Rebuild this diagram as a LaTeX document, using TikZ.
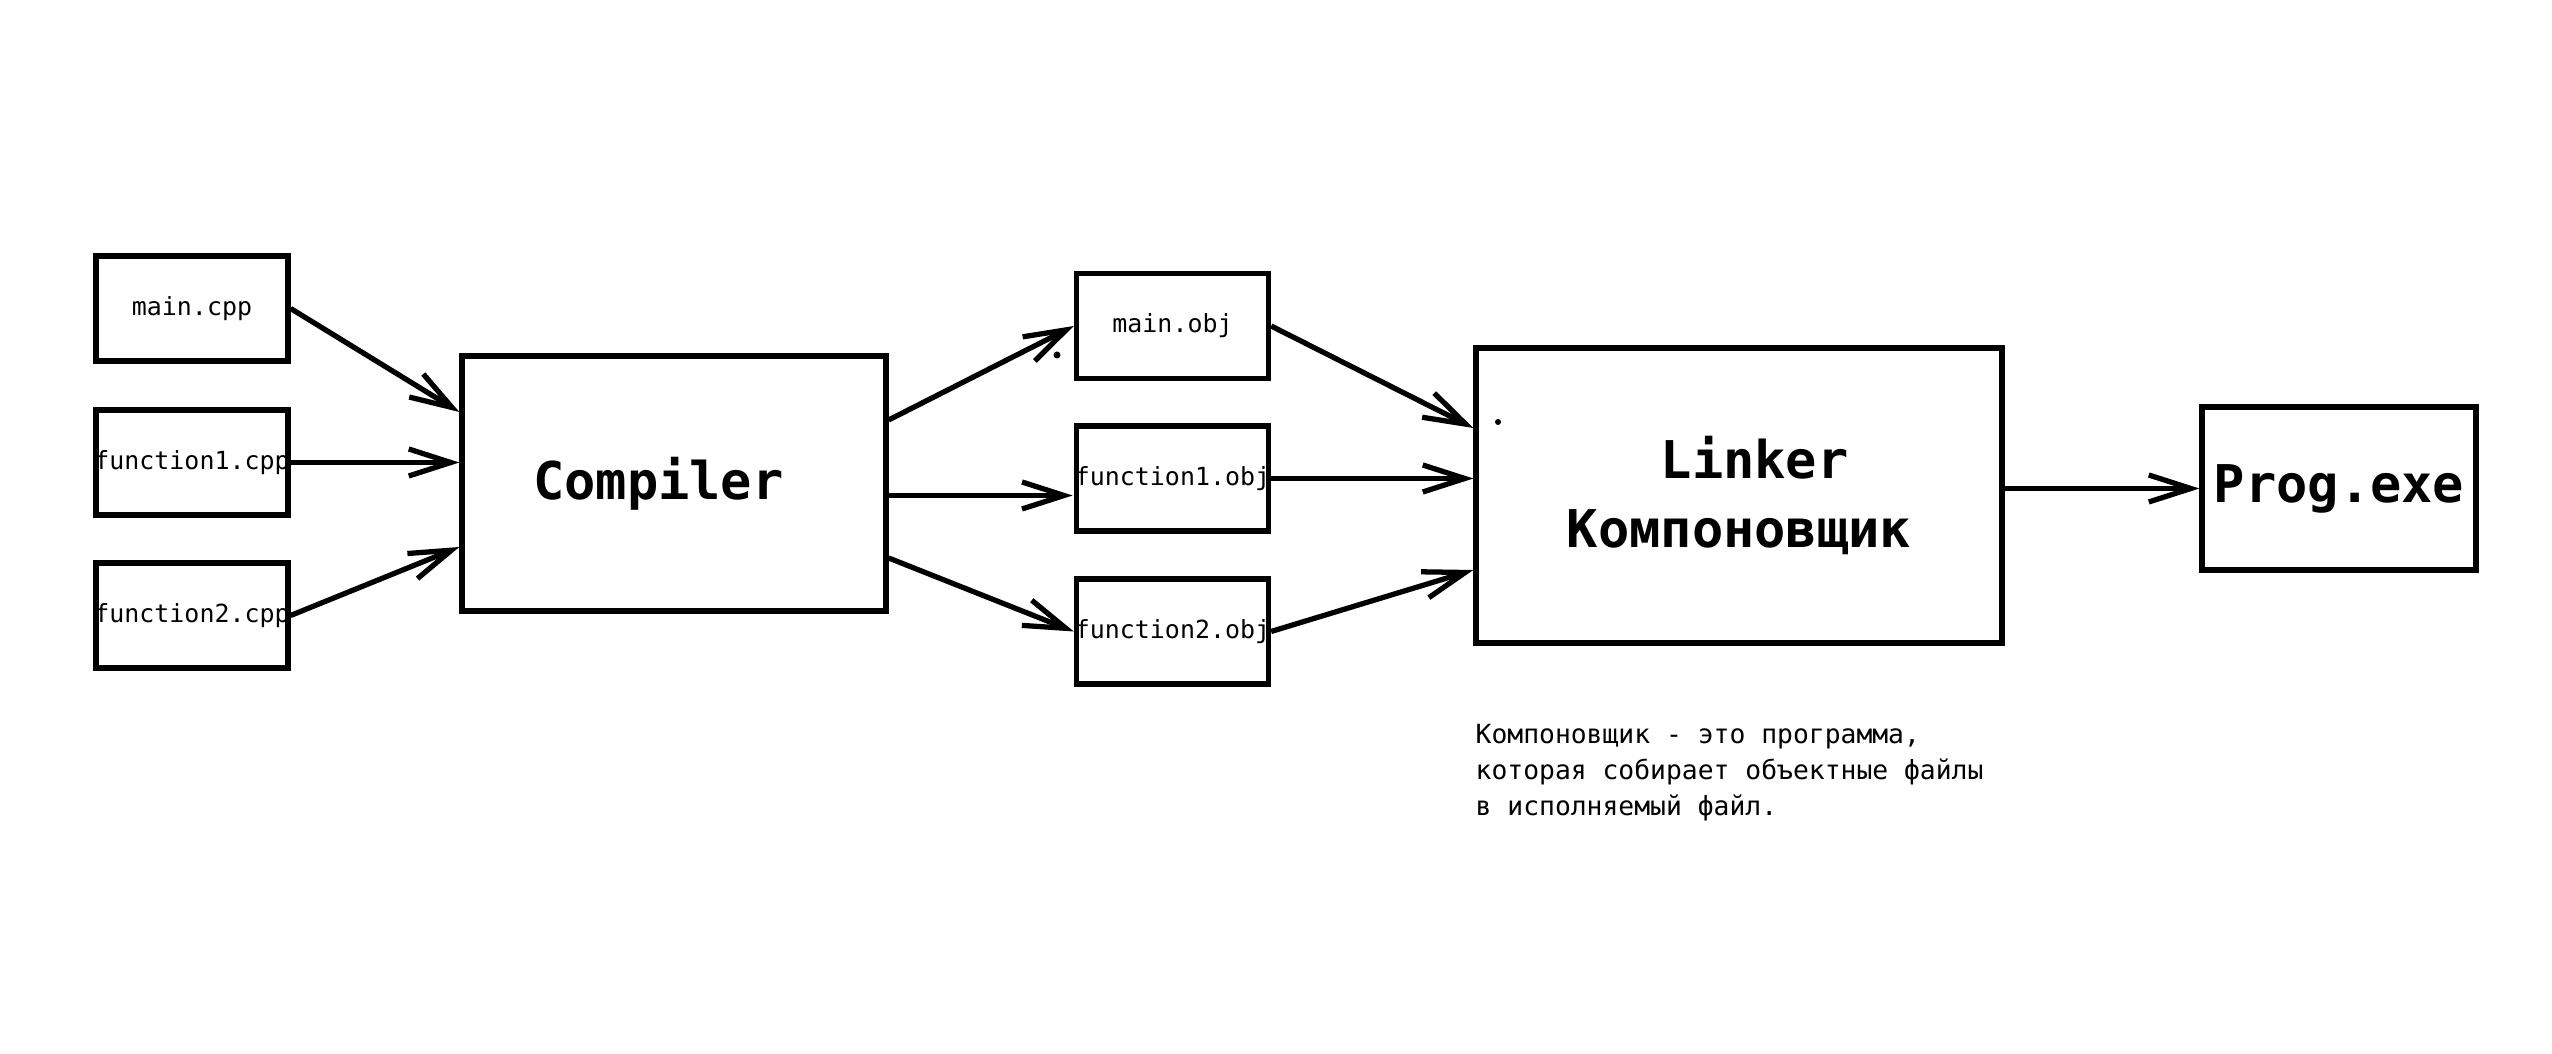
\documentclass[tikz,border=0pt]{standalone}
\usepackage{fontspec}
\setmainfont{DejaVu Sans Mono}
\usepackage{tikz}
\usetikzlibrary{arrows.meta,calc}

\begin{document}
\begin{tikzpicture}[line width=1.5pt,
    >={Straight Barb[length=4.2mm,width=2.7mm]},
    file/.style={draw,inner ysep=0pt,inner xsep=-0.05cm,minimum width=1.92cm,minimum height=1.05cm,
      font=\fontsize{7.1}{8}\selectfont},
    tool/.style={draw,inner sep=0pt,align=center,
      font=\fontsize{14.8}{19.4}\selectfont\bfseries}]
  \useasboundingbox (0,0) rectangle (25.52,10.54);

  % sources
  \node[file] (mcpp)  at (1.92,7.455) {main.cpp};
  \node[file] (f1cpp) at (1.92,5.915) {function1.cpp};
  \node[file] (f2cpp) at (1.92,4.385) {function2.cpp};

  \node[tool,minimum width=4.24cm,minimum height=2.55cm] (comp) at (6.74,5.705) {Compiler\hphantom{r}};

  % objects
  \node[file] (mobj)  at (11.725,7.28)  {main.obj};
  \node[file] (f1obj) at (11.725,5.755) {function1.obj};
  \node[file] (f2obj) at (11.725,4.225) {function2.obj};

  \node[tool,minimum width=5.26cm,minimum height=2.95cm] (link) at (17.39,5.585) {\hphantom{L}Linker\\Компоновщик};
  \node[tool,minimum width=2.74cm,minimum height=1.63cm] (prog) at (23.39,5.655) {Prog.exe};

  \node[anchor=north west,inner sep=0pt,align=left,font=\fontsize{7.5}{10.2}\selectfont] (note)
    at (14.73,3.32) {Компоновщик - это программа,\\которая собирает объектные файлы\\в исполняемый файл.};

  \draw[->] (mcpp.east) -- ($(comp.west)+(0,0.715)$);
  \draw[->] (f1cpp.east) -- (f1cpp.east -| comp.west);
  \draw[->] (f2cpp.east) -- ($(comp.west)+(0,-0.635)$);

  \draw[->] ($(comp.east)+(0,0.635)$) -- (mobj.west);
  \draw[->] ($(comp.east)+(0,-0.12)$) -- ++(1.84,0);
  \draw[->] ($(comp.east)+(0,-0.745)$) -- (f2obj.west);

  \draw[->] (mobj.east) -- ($(link.west)+(0,0.675)$);
  \draw[->] (f1obj.east) -- (f1obj.east -| link.west);
  \draw[->] (f2obj.east) -- ($(link.west)+(0,-0.745)$);

  \draw[->] (prog.west -| link.east) -- (prog.west);

  % stray marks
  \fill (10.57,6.99) circle (0.035);
  \fill (14.98,6.32) circle (0.03);
\end{tikzpicture}
\end{document}
